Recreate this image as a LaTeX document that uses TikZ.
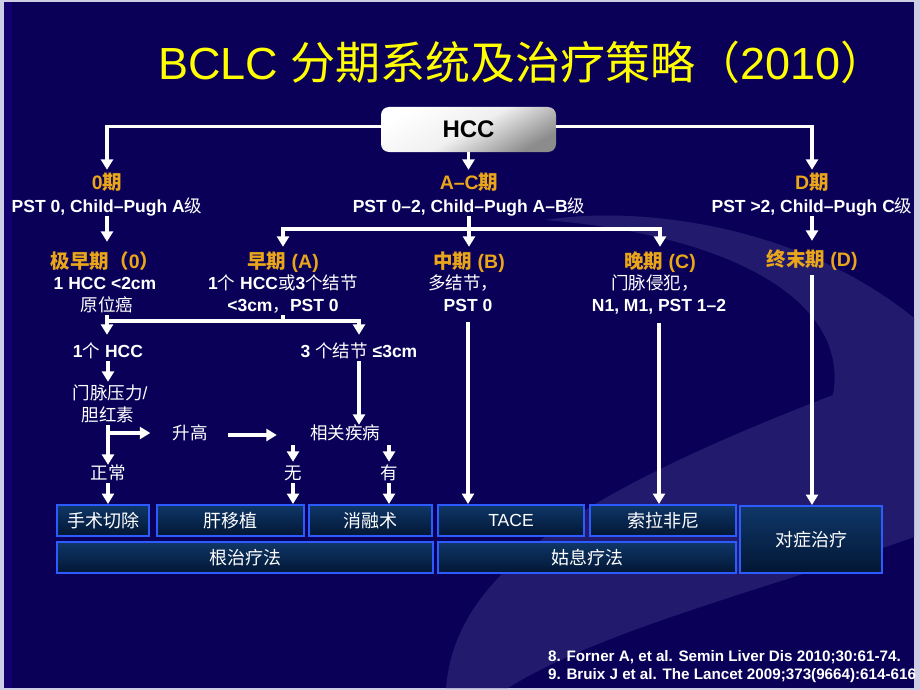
\documentclass[tikz,border=0pt]{standalone}
\usepackage{fontspec}
\setmainfont{Liberation Sans}
\newfontfamily\cjk{Noto Sans CJK SC}
\usetikzlibrary{arrows.meta,calc}
\newcommand\zh[1]{{\cjk\mdseries #1}}
\newcommand\zhb[1]{{\cjk\bfseries #1}}
\definecolor{bg}{HTML}{0B0058}
\definecolor{bgstripe}{HTML}{11006E}
\definecolor{swoosh}{HTML}{221B6D}
\definecolor{gold}{HTML}{E9A61A}
\definecolor{ttl}{HTML}{FFFF00}
\definecolor{boxtop}{HTML}{0F3768}
\definecolor{boxbot}{HTML}{021634}
\definecolor{boxline}{HTML}{2C5CFF}
\definecolor{framec}{HTML}{CDCDE4}
\tikzset{
  txtb/.style={text=white, font=\fontsize{17.5}{20}\selectfont\bfseries, inner sep=0pt, text height=12.5pt, text depth=3.5pt},
  txtr/.style={text=white, font=\fontsize{17.5}{20}\selectfont, inner sep=0pt, text height=12.5pt, text depth=3.5pt},
  txth/.style={text=gold, font=\fontsize{19.5}{22}\selectfont\bfseries, inner sep=0pt, text height=14pt, text depth=4pt},
  tbox/.style={draw=boxline, line width=2pt, top color=boxtop, bottom color=boxbot, text=white, font=\fontsize{18}{20}\selectfont, inner sep=0pt},
  wline/.style={draw=white, line width=3.7pt},
  warr/.style={wline, -{Triangle[width=12pt,length=10.5pt]}},
  refs/.style={anchor=west, text=white, font=\fontsize{15.2}{17}\selectfont\bfseries, inner sep=0pt},
}
\begin{document}
\begin{tikzpicture}[x=1pt,y=-1pt]
\useasboundingbox (0,0) rectangle (920,690);
% background
\fill[framec] (0,0) rectangle (920,690);
\fill[bg] (4,2) rectangle (914,688);
\fill[bgstripe] (4,2) rectangle (12,688);
\fill[swoosh] (545,220) .. controls (640,205) and (800,225) .. (914,318) -- (914,537)
  .. controls (780,585) and (600,630) .. (508,688) -- (446,688)
  .. controls (455,580) and (560,500) .. (833,395)
  .. controls (850,300) and (730,235) .. (545,220) -- cycle;

% title
\node[text=ttl, font=\fontsize{45}{50}\selectfont, inner sep=0pt] (title) at (522,62) {BCLC \zh{分期系统及治疗策略（}2010\zh{）}};

% HCC
\node[rounded corners=8pt, minimum width=175pt, minimum height=45pt, top color=white, bottom color=black!45, middle color=black!6, shading angle=30, text=black, font=\fontsize{24}{26}\selectfont\bfseries, inner sep=0pt] (hcc) at (468.5,129.5) {HCC};

% stage row 1
\node[txth] (s0h) at (107,184) {0\zhb{期}};
\node[txtb] (s0t) at (107,208) {PST 0, Child–Pugh A\zh{级}};
\node[txth] (sach) at (469,184) {A–C\zhb{期}};
\node[txtb] (sact) at (469,208) {PST 0–2, Child–Pugh A–B\zh{级}};
\node[txth] (sdh) at (812,184) {D\zhb{期}};
\node[txtb] (sdt) at (812,208) {PST >2, Child–Pugh C\zh{级}};

% stage row 2
\node[txth] (e0h) at (105,263) {\zhb{极早期（}0\zhb{）}};
\node[txtb] (e0a) at (105,285) {1 HCC <2cm};
\node[txtr] (e0b) at (107,307) {\zh{原位癌}};
\node[txth] (eah) at (283,263) {\zhb{早期} (A)};
\node[txtb] (eaa) at (283,285) {1\zh{个} HCC\zh{或}3\zh{个结节}};
\node[txtb] (eab) at (283,307) {<3cm\zh{，}PST 0};
\node[txth] (ebh) at (469,263) {\zhb{中期} (B)};
\node[txtr] (eba) at (463,285) {\zh{多结节，}};
\node[txtb] (ebb) at (468,307) {PST 0};
\node[txth] (ech) at (660,263) {\zhb{晚期} (C)};
\node[txtr] (eca) at (655,285) {\zh{门脉侵犯，}};
\node[txtb] (ecb) at (659,307) {N1, M1, PST 1–2};
\node[txth] (edh) at (812,261) {\zhb{终末期} (D)};

% early sub-flow
\node[txtb] (one) at (108,353) {1\zh{个} HCC};
\node[txtb] (three) at (359,353) {3 \zh{个结节} ≤3cm};
\node[txtr] (mp1) at (110,395) {\zh{门脉压力}/};
\node[txtr] (mp2) at (108,417) {\zh{胆红素}};
\node[txtr] (sg) at (190,435) {\zh{升高}};
\node[txtr] (xg) at (345,435) {\zh{相关疾病}};
\node[txtr] (zc) at (108,475) {\zh{正常}};
\node[txtr] (wu) at (293,475) {\zh{无}};
\node[txtr] (you) at (389,475) {\zh{有}};

% treatment boxes
\node[tbox, minimum width=92pt, minimum height=31pt] (ss) at (103,520.5) {\zh{手术切除}};
\node[tbox, minimum width=147pt, minimum height=31pt] (gy) at (230.5,520.5) {\zh{肝移植}};
\node[tbox, minimum width=123pt, minimum height=31pt] (xr) at (370.5,520.5) {\zh{消融术}};
\node[tbox, minimum width=146pt, minimum height=31pt, font=\fontsize{17.5}{20}\selectfont] (tace) at (511,520.5) {TACE};
\node[tbox, minimum width=146pt, minimum height=31pt] (sora) at (663,520.5) {\zh{索拉非尼}};
\node[tbox, minimum width=142pt, minimum height=67pt] (dui) at (811,539.5) {\zh{对症治疗}};
\node[tbox, minimum width=376pt, minimum height=31pt] (gz) at (245,557.5) {\zh{根治疗法}};
\node[tbox, minimum width=298pt, minimum height=31pt] (gx) at (587,557.5) {\zh{姑息疗法}};

% references
\node[refs] (ref1) at (548,657) {8. Forner A, et al. Semin Liver Dis 2010;30:61-74.};
\node[refs] (ref2) at (548,676) {9. Bruix J et al. The Lancet 2009;373(9664):614-616};

% connectors from HCC
\draw[warr,shorten >=5pt] ([yshift=3pt]hcc.west) -| (s0h.north);
\draw[warr,shorten >=5pt] (hcc.south) -- (hcc.south |- sach.north);
\draw[warr,shorten >=5pt] ([yshift=3pt]hcc.east) -| (sdh.north);

% to stage row 2
\draw[warr,shorten >=12pt] (s0t.south) -- (s0t.south |- e0h.north);
\draw[warr,shorten >=11pt] (sdt.south) -- (sdt.south |- edh.north);
\coordinate (acbar) at (469,229);
\draw[warr,shorten >=7pt] (sact.south) -- (sact.south |- ebh.north);
\draw[warr,shorten >=7pt] (acbar) -| (eah.north);
\draw[warr,shorten >=7pt] (acbar) -| (ech.north);

% long arrows to boxes
\draw[warr,shorten <=7pt] (ebb.south) -- (ebb.south |- tace.north);
\draw[warr,shorten <=8pt] (ecb.south) -- (ecb.south |- sora.north);
\draw[warr,shorten <=5pt] (edh.south) -- (edh.south |- dui.north);

% early stage flow
\coordinate (ebar) at (107,321);
\draw[warr,shorten >=10pt] (e0b.south) -- (e0b.south |- one.north);
\draw[wline] (eab.south) -- (eab.south |- ebar);
\draw[warr,shorten >=10pt] (ebar) -| (three.north);
\draw[warr,shorten >=5pt] (one.south) -- (one.south |- mp1.north);
\draw[warr,shorten >=2pt] (mp2.south) -- (mp2.south |- zc.north);
\coordinate (br) at (108,433);
\draw[warr,shorten >=22pt] (br) -- (br -| sg.west);
\draw[warr,shorten <=20pt,shorten >=33pt] (sg.east) -- (xg.west);
\draw[warr,shorten >=2pt] (three.south) -- (three.south |- xg.north);
\draw[warr,shorten <=2pt,shorten >=5pt] (xg.south -| wu.north) -- (wu.north);
\draw[warr,shorten <=2pt,shorten >=5pt] (xg.south -| you.north) -- (you.north);
\draw[warr] (zc.south) -- (zc.south |- ss.north);
\draw[warr] (wu.south) -- (wu.south |- gy.north);
\draw[warr] (you.south) -- (you.south |- xr.north);
\end{tikzpicture}
\end{document}
